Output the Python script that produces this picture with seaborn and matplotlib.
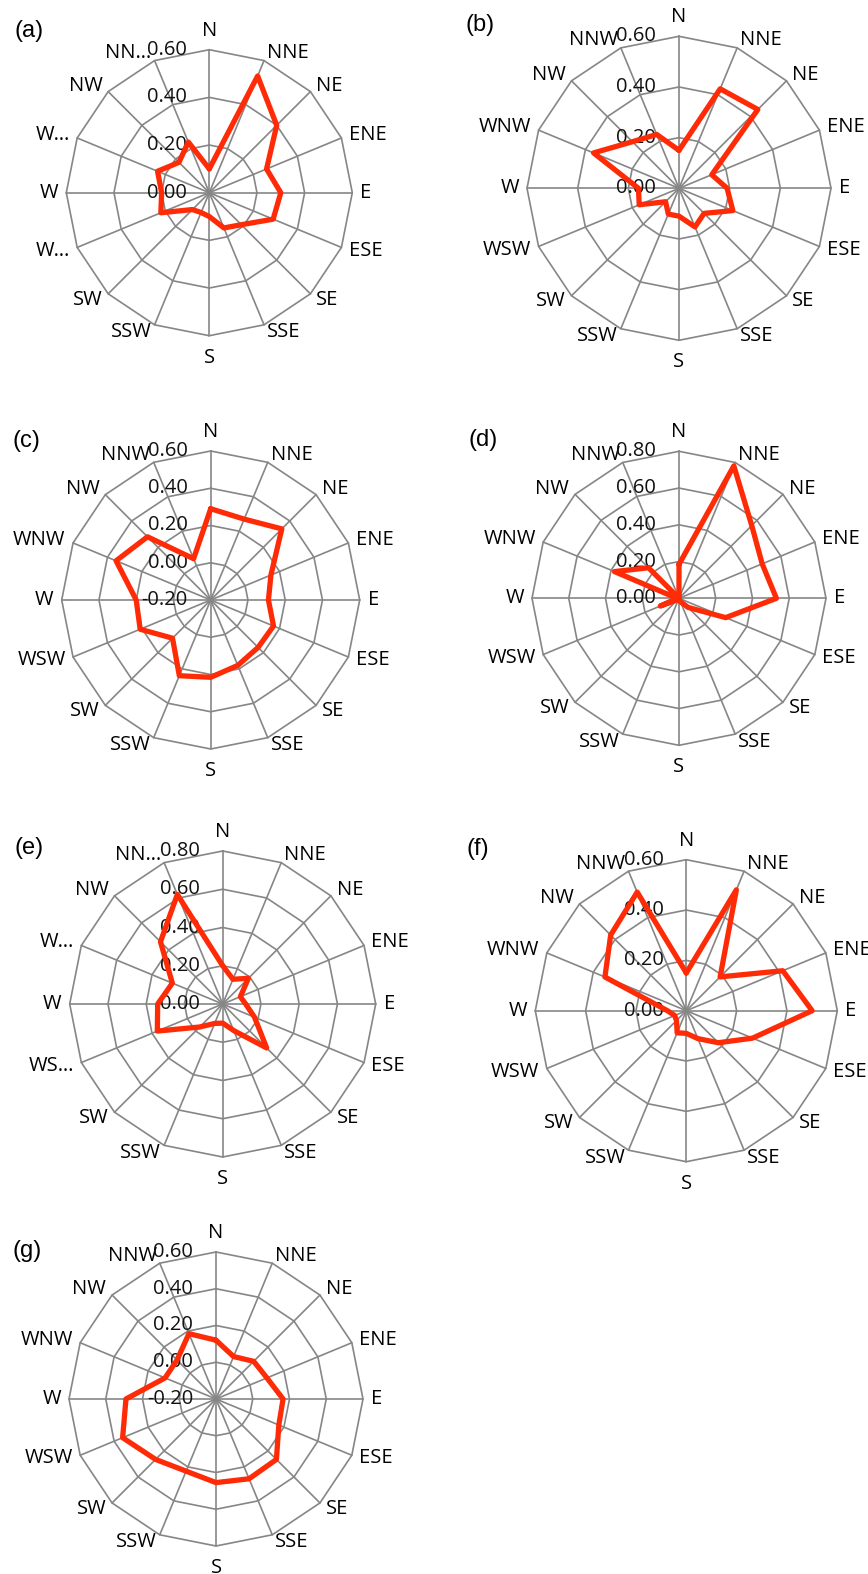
import numpy as np
import pandas as pd
import matplotlib
matplotlib.use("Agg")
import matplotlib.pyplot as plt
import seaborn as sns

# 16 wind directions, clockwise from north
directions = ["N", "NNE", "NE", "ENE", "E", "ESE", "SE", "SSE",
              "S", "SSW", "SW", "WSW", "W", "WNW", "NW", "NNW"]
# some panels show truncated category labels
labels_a = ["N", "NNE", "NE", "ENE", "E", "ESE", "SE", "SSE",
            "S", "SSW", "SW", "W…", "W", "W…", "NW", "NN…"]
labels_e = ["N", "NNE", "NE", "ENE", "E", "ESE", "SE", "SSE",
            "S", "SSW", "SW", "WS…", "W", "W…", "NW", "NN…"]

vals_a = [0.10, 0.53, 0.40, 0.26, 0.30, 0.29, 0.19, 0.16,
          0.10, 0.09, 0.10, 0.22, 0.20, 0.235, 0.18, 0.23]
vals_b = [0.15, 0.425, 0.44, 0.14, 0.19, 0.23, 0.14, 0.165,
          0.11, 0.11, 0.075, 0.17, 0.16, 0.365, 0.26, 0.23]
vals_c = [0.29, 0.27, 0.34, 0.15, 0.11, 0.165, 0.16, 0.18,
          0.215, 0.24, 0.09, 0.21, 0.20, 0.35, 0.28, 0.04]
vals_d = [0.185, 0.78, 0.56, 0.49, 0.53, 0.275, 0.07, 0.02,
          0.0, 0.0, 0.01, 0.11, 0.01, 0.38, 0.235, 0.0]
vals_e = [0.20, 0.14, 0.19, 0.10, 0.12, 0.18, 0.325, 0.15,
          0.10, 0.11, 0.17, 0.37, 0.34, 0.285, 0.46, 0.62]
vals_f = [0.15, 0.52, 0.19, 0.415, 0.50, 0.285, 0.18, 0.12,
          0.09, 0.095, 0.055, 0.05, 0.075, 0.35, 0.425, 0.51]
vals_g = [0.12, 0.05, 0.09, 0.10, 0.165, 0.17, 0.265, 0.27,
          0.255, 0.225, 0.265, 0.35, 0.29, 0.10, 0.10, 0.185]

ticks_06 = [0.0, 0.2, 0.4, 0.6]
ticks_08 = [0.0, 0.2, 0.4, 0.6, 0.8]
ticks_neg = [-0.2, 0.0, 0.2, 0.4, 0.6]

panels = [
    ("(a)", vals_a, ticks_06, labels_a),
    ("(b)", vals_b, ticks_06, directions),
    ("(c)", vals_c, ticks_neg, directions),
    ("(d)", vals_d, ticks_08, directions),
    ("(e)", vals_e, ticks_08, labels_e),
    ("(f)", vals_f, ticks_06, directions),
    ("(g)", vals_g, ticks_neg, directions),
]

# layout in pixels: centre x, centre y, radius, letter x, letter y
layout = [
    (209.3, 192.7, 143, 15, 31),
    (679.0, 188.3, 152, 466, 25),
    (210.7, 600.0, 149, 13, 441),
    (679.0, 598.3, 147, 469, 440),
    (222.7, 1004.0, 153, 15, 848),
    (686.3, 1010.7, 151, 467, 849),
    (216.0, 1399.0, 147, 13, 1251),
]

W, H = 868, 1574
grid_col = "#868686"
red = "#ff2a06"

sns.set_theme(style="white")
plt.rcParams["font.family"] = ["Open Sans", "DejaVu Sans"]

fig = plt.figure(figsize=(W / 100, H / 100), dpi=100)
fig.patch.set_facecolor("white")

theta = np.arange(16) * 2 * np.pi / 16
closed = np.append(theta, 2 * np.pi)

for (letter, vals, ticks, labs), (cx, cy, R, lx, ly) in zip(panels, layout):
    ax = fig.add_axes([(cx - R) / W, 1 - (cy + R) / H, 2 * R / W, 2 * R / H],
                      projection="polar")
    ax.set_theta_zero_location("N")
    ax.set_theta_direction(-1)
    lo, hi = ticks[0], ticks[-1]

    for t in ticks[1:]:
        ax.plot(closed, [t] * len(closed), color=grid_col, lw=1.2, zorder=1)
    for th in theta:
        ax.plot([th, th], [lo, hi], color=grid_col, lw=1.2, zorder=1)

    df = pd.DataFrame({"theta": closed, "value": np.append(vals, vals[0])})
    sns.lineplot(data=df, x="theta", y="value", sort=False, estimator=None,
                 color=red, lw=3.8, ax=ax, zorder=5)
    for ln in ax.lines:
        ln.set_clip_on(False)

    ax.set_ylim(lo, hi)
    ax.set_xlabel("")
    ax.set_ylabel("")
    ax.grid(False)
    ax.set_xticks([])
    ax.set_yticks([])
    ax.spines["polar"].set_visible(False)
    ax.patch.set_alpha(0)

    for th, lab in zip(theta, labs):
        s, c = np.sin(th), np.cos(th)
        if abs(s) < 1e-6:
            ha = "center"
            va = "bottom" if c > 0 else "top"
            off = (0, 6.5 if c > 0 else -8.5)
        else:
            ha = "left" if s > 0 else "right"
            va = "center"
            off = (5.8 * s, 5.8 * c)
        ax.annotate(lab, (th, hi), xytext=off, textcoords="offset points",
                    ha=ha, va=va, fontsize=14.5, color="black",
                    annotation_clip=False, zorder=3)

    for t in ticks:
        ax.annotate(f"{t:.2f}", (0, t), xytext=(-16.5, 0), textcoords="offset points",
                    ha="right", va="center", fontsize=14.5, color="#111111",
                    annotation_clip=False, zorder=3)

    fig.text(lx / W, 1 - ly / H, letter, ha="left", va="center", fontsize=17,
             family=["Liberation Sans", "DejaVu Sans"], color="black")

fig.savefig("out.png", dpi=100, facecolor="white")
